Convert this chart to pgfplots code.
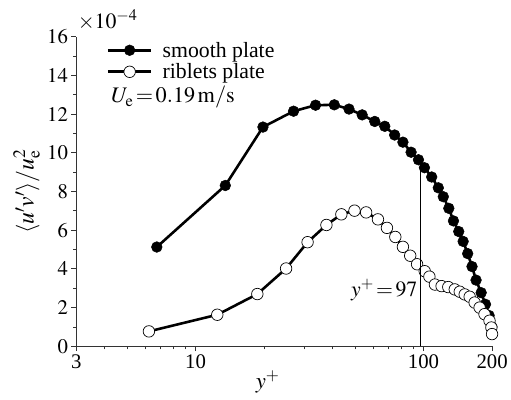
\documentclass[border=0pt]{standalone}
\usepackage{mathptmx}
\usepackage{fontspec}
\setmainfont{Liberation Serif}
\usepackage{pgfplots}
\pgfplotsset{compat=1.18}
\begin{document}
\begin{tikzpicture}
\begin{axis}[
 scale only axis, width=419bp, height=312bp,
 xmode=log, xmin=3, xmax=200, ymin=0, ymax=16,
 axis lines=left, axis line style={-, line width=0.8bp, black!80},
 xtick={3,10,100,200}, xticklabels={3,10,100,200},
 minor xtick={4,5,6,7,8,9,20,30,40,50,60,70,80,90},
 ytick={0,2,...,16}, minor ytick={1,3,...,15},
 tick align=outside, major tick length=5bp, minor tick length=3bp,
 tick style={line width=0.8bp, black!80},
 ticklabel style={font=\fontsize{21}{24}\selectfont},
 clip mode=individual,
 xlabel={$y^{+}$},
 xlabel style={at={(rel axis cs:0.46,-0.115)}, anchor=center, font=\fontsize{23}{25}\selectfont},
 ylabel={$\langle u'v'\rangle/u_{\mathrm{e}}^{2}$},
 ylabel style={at={(rel axis cs:-0.12,0.5)}, anchor=center, rotate=0, font=\fontsize{24}{26}\selectfont},
 legend style={at={(rel axis cs:0.072,0.99)}, anchor=north west, draw=none, fill=none,
   font=\fontsize{22}{23}\selectfont, row sep=1bp, inner sep=0pt, cells={anchor=west}},
 legend image code/.code={\draw[mark repeat=2,mark phase=2,#1] plot coordinates {(0bp,0bp)(22bp,0bp)(44bp,0bp)};},
]
\addplot[black, line width=2.6bp, mark=*, mark size=5.4bp, mark options={fill=black, line width=0.5bp}] table {
x y
6.76 5.13
13.5 8.31
19.75 11.33
26.9 12.15
33.6 12.46
40.6 12.48
47.1 12.26
53.8 11.96
61.1 11.62
67.6 11.37
74.7 10.92
81.2 10.55
88.2 10.03
95.0 9.64
100.9 9.23
108.6 8.75
116.1 8.19
122.1 7.73
129.1 7.13
135.3 6.48
142.7 5.93
149.2 5.42
156.2 4.79
163.2 4.12
170.0 3.42
179.0 2.77
187.0 2.17
194.0 1.59
199.5 1.00
};
\addlegendentry{\hspace{8bp}smooth plate}
\addplot[black, line width=2.6bp, mark=*, mark size=5.8bp, mark options={fill=white, line width=0.7bp}] table {
x y
6.24 0.77
12.45 1.63
18.66 2.70
24.95 4.02
31.0 5.38
37.5 6.27
43.6 6.82
49.8 7.01
56.0 6.92
63.1 6.56
69.1 6.12
75.2 5.65
81.2 5.14
87.4 4.68
93.7 4.24
101.2 3.88
106.1 3.60
112.2 3.19
120.0 3.11
128.4 3.06
137.1 2.94
144.2 2.82
151.6 2.68
159.4 2.56
167.6 2.26
176.2 2.00
185.2 1.66
194.8 1.32
198.5 0.97
199.8 0.63
};
\addlegendentry{\hspace{8bp}riblets plate}
\addplot[black, line width=0.8bp, forget plot] coordinates {(97,0) (97,9.3)};
\node[anchor=east, font=\fontsize{22}{24}\selectfont, inner sep=1bp] at (axis cs:95,2.9) {$y^{+}\!=\!97$};
\node[anchor=west, font=\fontsize{22.5}{24}\selectfont, inner sep=0pt] at (rel axis cs:0.0835,0.804) {$U_{\mathrm{e}}\!=\!0.19\,\mathrm{m/s}$};
\node[anchor=south west, font=\fontsize{22}{24}\selectfont, inner sep=0pt] at (rel axis cs:0.003,1.02) {$\times10^{-4}$};
\end{axis}
\path (current axis.south west) ++(-77bp,-54bp);
\path (current axis.north east) ++(15bp,37bp);
\end{tikzpicture}
\end{document}
